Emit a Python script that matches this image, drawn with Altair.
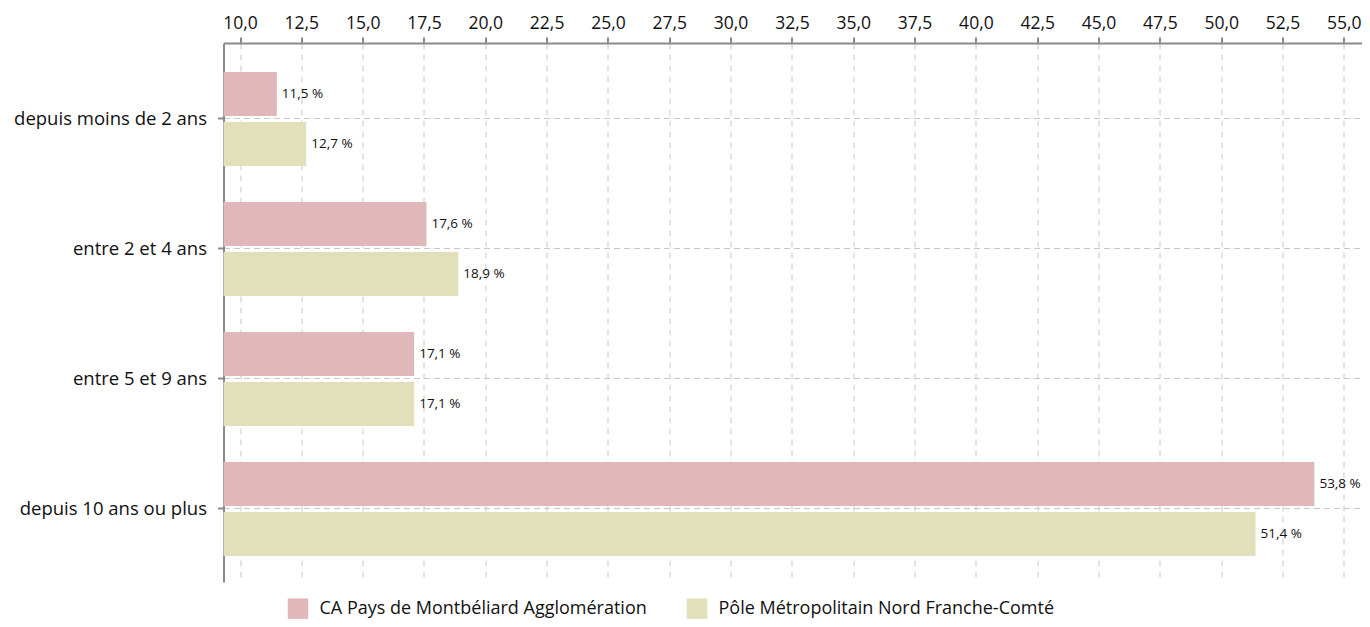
import altair as alt
import pandas as pd

categories = ["depuis moins de 2 ans", "entre 2 et 4 ans", "entre 5 et 9 ans", "depuis 10 ans ou plus"]
series = ["CA Pays de Montbéliard Agglomération", "Pôle Métropolitain Nord Franche-Comté"]
ca_values = [11.5, 17.6, 17.1, 53.8]
pole_values = [12.7, 18.9, 17.1, 51.4]
x_ticks = [10.0, 12.5, 15.0, 17.5, 20.0, 22.5, 25.0, 27.5, 30.0, 32.5, 35.0,
           37.5, 40.0, 42.5, 45.0, 47.5, 50.0, 52.5, 55.0]
colors = ["#e0b8b9", "#e2e0bb"]

rows = []
for c, a, b in zip(categories, ca_values, pole_values):
    rows.append({"cat": c, "serie": series[0], "value": a})
    rows.append({"cat": c, "serie": series[1], "value": b})
df = pd.DataFrame(rows)

XMIN, XMAX = 9.327, 55.74
FONT = "Open Sans"
GRID = "#c8c8c8"
AXC = "#8a8a8a"

x_enc = alt.X(
    "value:Q",
    scale=alt.Scale(domain=[XMIN, XMAX], nice=False, zero=False),
    axis=alt.Axis(
        orient="top", values=x_ticks, title=None,
        labelExpr="replace(format(datum.value, '.1f'), '.', ',')",
        grid=True, gridDash=[6, 5], gridColor=GRID, gridWidth=1,
        domainColor=AXC, domainWidth=2, tickColor=AXC, tickWidth=2, tickSize=6,
        labelFontSize=17.5, labelPadding=5, labelColor="#111", labelFont=FONT,
    ),
)
y_enc = alt.Y(
    "cat:N", sort=categories,
    scale=alt.Scale(paddingInner=0.277, paddingOuter=0.2115, align=0.527),
    axis=alt.Axis(
        title=None, grid=True, gridDash=[6, 4], gridColor=GRID, gridWidth=1,
        domainColor=AXC, domainWidth=2, tickColor=AXC, tickWidth=2, tickSize=6,
        labelFontSize=18.5, labelPadding=11, labelColor="#111", labelFont=FONT,
        labelLimit=400,
    ),
)
yoff = alt.YOffset("serie:N", sort=series, scale=alt.Scale(paddingInner=0.12, paddingOuter=0))

color = alt.Color(
    "serie:N", sort=series,
    scale=alt.Scale(domain=series, range=colors),
    legend=alt.Legend(
        title=None, orient="none", legendX=64, legendY=555, direction="horizontal",
        symbolType="square", symbolSize=420, symbolStrokeWidth=0, symbolOpacity=1,
        labelFontSize=18, labelFont=FONT, labelColor="#111", labelOffset=11,
        columnPadding=39, padding=0, labelLimit=500,
    ),
)

base = alt.Chart(df)
bars = base.mark_bar().encode(
    x=x_enc, x2=alt.X2(datum=XMIN), y=y_enc, yOffset=yoff, color=color
)
labels = base.transform_calculate(
    lbl="replace(format(datum.value, '.1f'), '.', ',') + ' %'"
).mark_text(align="left", baseline="middle", dx=5, fontSize=13.5, font=FONT, color="#111").encode(
    x=alt.X("value:Q"), y=alt.Y("cat:N", sort=categories), yOffset=alt.YOffset("serie:N", sort=series),
    text="lbl:N",
)

chart = alt.layer(bars, labels).properties(
    width=1138.5, height=539,
    autosize="none",
    padding={"left": 215.5, "top": 35, "right": 0, "bottom": 37},
).configure_view(stroke=None)

chart.save("out.html", embed_options={"renderer": "svg", "actions": False})
